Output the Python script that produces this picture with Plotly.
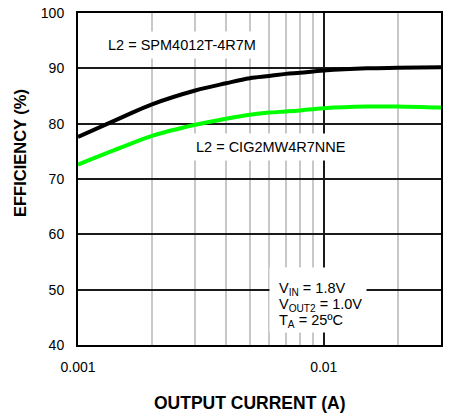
import plotly.graph_objects as go

# Data
current_a = [0.001, 0.0015, 0.002, 0.003, 0.004, 0.005, 0.006, 0.007, 0.008, 0.01, 0.015, 0.02, 0.03]
eff_spm4012 = [77.6, 81.1, 83.5, 86.0, 87.3, 88.2, 88.6, 89.0, 89.2, 89.6, 90.0, 90.1, 90.2]
eff_cig2mw = [72.6, 75.7, 77.8, 79.8, 80.9, 81.6, 82.0, 82.2, 82.4, 82.8, 83.1, 83.1, 82.9]

x_tickvals = [0.001, 0.01, 0.03]
x_ticktext = ["0.001", "0.01", "0.03"]
x_minor = [0.002, 0.003, 0.004, 0.005, 0.006, 0.007, 0.008, 0.009, 0.02]
y_tickvals = [40, 50, 60, 70, 80, 90, 100]

conditions = ["V<sub>IN</sub> = 1.8V", "V<sub>OUT2</sub> = 1.0V", "T<sub>A</sub> = 25ºC"]

FONT = "Liberation Sans, Arial, sans-serif"

fig = go.Figure()
fig.add_trace(go.Scatter(x=current_a, y=eff_spm4012, mode="lines",
                         line=dict(color="#000000", width=4, shape="spline", smoothing=1.0),
                         showlegend=False, hoverinfo="skip"))
fig.add_trace(go.Scatter(x=current_a, y=eff_cig2mw, mode="lines",
                         line=dict(color="#00ff00", width=4, shape="spline", smoothing=1.0),
                         showlegend=False, hoverinfo="skip"))

fig.update_layout(
    width=449, height=418,
    margin=dict(l=78, r=8, t=13, b=73, pad=0, autoexpand=False),
    paper_bgcolor="white", plot_bgcolor="white",
    font=dict(family=FONT, size=14, color="#000000"),
    showlegend=False,
)
fig.update_xaxes(
    type="log", range=[-3, -1.5229], automargin=False,
    tickvals=x_tickvals, ticktext=x_ticktext,
    showgrid=True, gridcolor="#1a1a1a", gridwidth=1.5,
    minor=dict(tickvals=x_minor, showgrid=True, gridcolor="#c8c8c8", gridwidth=1.5, ticks=""),
    ticks="", ticklabelstandoff=8,
    showline=True, mirror=True, linecolor="#000000", linewidth=2,
    zeroline=False, tickfont=dict(size=14),
)
fig.update_yaxes(
    range=[40, 100], tickvals=y_tickvals, automargin=False,
    showgrid=True, gridcolor="#1a1a1a", gridwidth=1.5,
    ticks="", ticklabelstandoff=9,
    showline=True, mirror=True, linecolor="#000000", linewidth=2,
    zeroline=False, tickfont=dict(size=14),
)

fig.add_annotation(x=-2.577, y=94.3, xref="x", yref="y", text="L2 = SPM4012T-4R7M",
                   showarrow=False, bgcolor="white", borderpad=5, font=dict(size=14.5))
fig.add_annotation(x=-2.2145, y=75.8, xref="x", yref="y", text="L2 = CIG2MW4R7NNE",
                   showarrow=False, bgcolor="white", borderpad=5, font=dict(size=14.5))

# white backing box for the conditions block
fig.add_annotation(x=-2.023, y=48.18, xref="x", yref="y", text=" ", width=96, height=64,
                   showarrow=False, bgcolor="white", borderpad=0)
for txt, yv in zip(conditions, [50.2, 47.15, 44.25]):
    fig.add_annotation(x=-2.1913, y=yv, xref="x", yref="y", text=txt, xanchor="left",
                       yanchor="middle", align="left", showarrow=False, font=dict(size=14.5))

fig.add_annotation(x=0.4725, y=-0.1747, xref="paper", yref="paper", text="<b>OUTPUT CURRENT (A)</b>",
                   showarrow=False, xanchor="center", yanchor="middle", font=dict(size=17.5))
fig.add_annotation(x=-0.16, y=0.578, xref="paper", yref="paper", text="<b>EFFICIENCY (%)</b>",
                   showarrow=False, textangle=-90, xanchor="center", yanchor="middle", font=dict(size=16.5))

fig.write_html("out.html", config={"displayModeBar": False},
               post_script="document.body.style.margin='0';document.body.style.overflow='hidden';")
